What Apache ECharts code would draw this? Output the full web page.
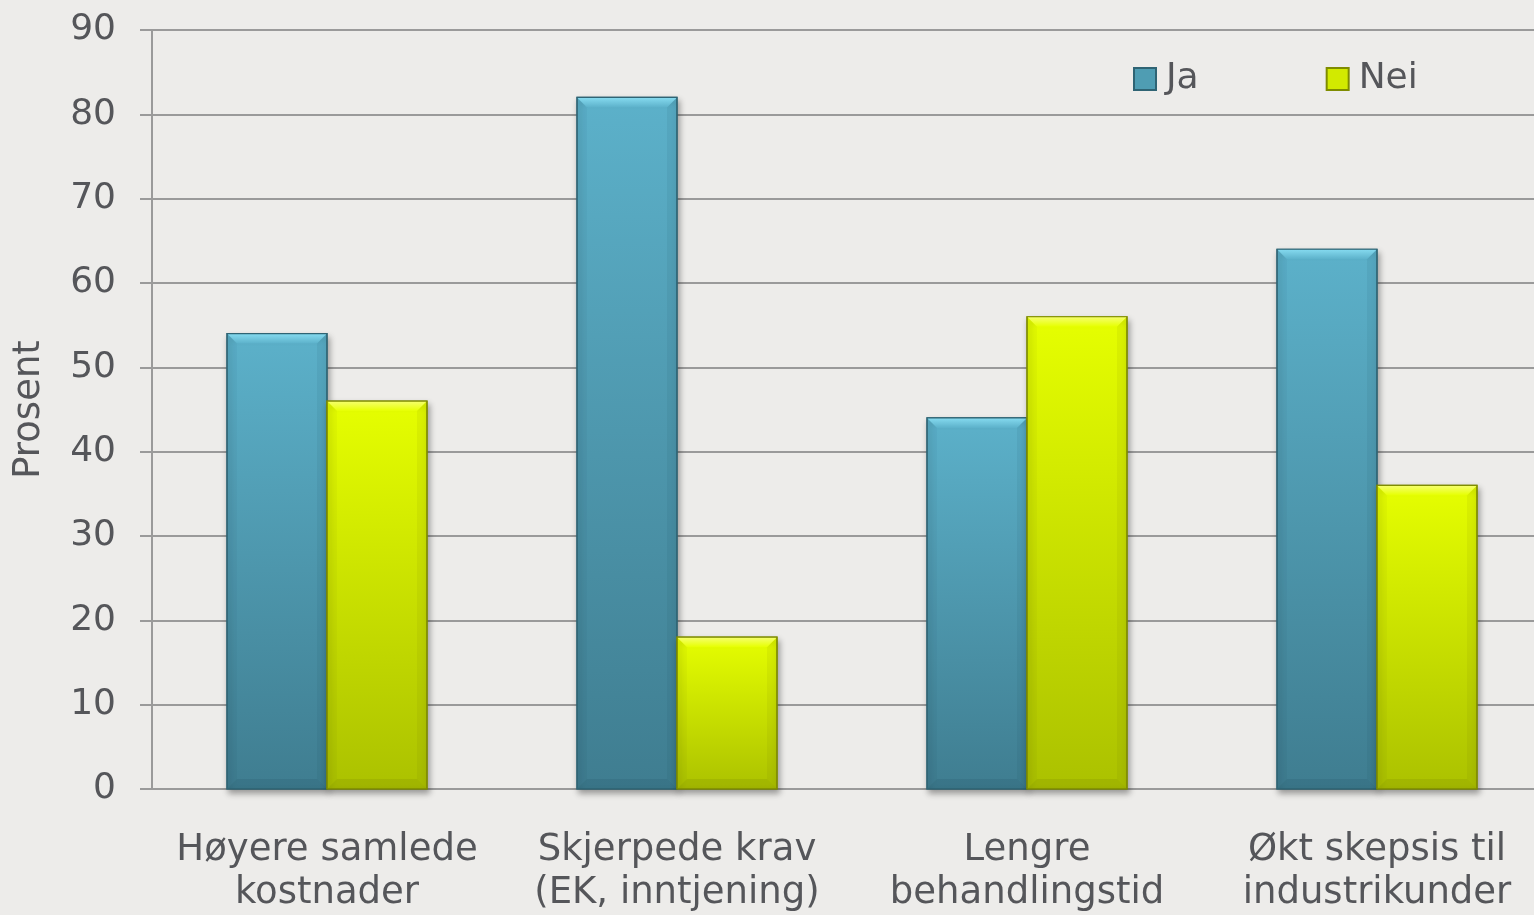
<!DOCTYPE html>
<html><head><meta charset="utf-8">
<script src="https://cdn.jsdelivr.net/npm/echarts@6/dist/echarts.min.js"></script>
<style>html,body{margin:0;padding:0;background:#edecea;overflow:hidden;width:1534px;height:915px;}#c{width:1552px;height:915px;}</style>
</head><body><div id="c"></div>
<script>
const categories = ['Høyere samlede\nkostnader', 'Skjerpede krav\n(EK, inntjening)', 'Lengre\nbehandlingstid', 'Økt skepsis til\nindustrikunder'];
const jaValues = [54, 82, 44, 64];
const neiValues = [46, 18, 56, 36];
const yTicks = {min: 0, max: 90, interval: 10};
const font = 'DejaVu Sans, Verdana, sans-serif';
const txt = '#55565a';
const axisC = '#9a9a9a';
const styles = [
  {top: '#5cb1ca', bottom: '#3f7d90', hi: '#86dbf0', dark: 'rgba(20,60,75,0.35)', border: '#2f6474'},
  {top: '#e6ff00', bottom: '#abc100', hi: '#f6ff70', dark: 'rgba(80,90,0,0.35)', border: '#7f8c00'}
];
function makeRender(s){
  return function(params, api){
    const i = api.value(0), v = api.value(1);
    const band = api.size([1, 0])[0];
    const w = band * 100 / 350;
    const c = api.coord([i, v]);
    const base = api.coord([i, 0]);
    const x0 = s === 0 ? c[0] - w : c[0];
    const x1 = x0 + w;
    const y0 = c[1], y1 = base[1];
    const b = Math.min(10, (y1 - y0) / 2);
    const st = styles[s];
    return {type: 'group', children: [
      {type: 'rect', shape: {x: x0, y: y0, width: w, height: y1 - y0},
       style: {fill: new echarts.graphic.LinearGradient(0,0,0,1,[{offset:0,color:st.top},{offset:1,color:st.bottom}]),
               stroke: st.border, lineWidth: 1.2, shadowColor: 'rgba(0,0,0,0.35)', shadowBlur: 6, shadowOffsetX: 2, shadowOffsetY: 4}},
      {type: 'polygon', shape: {points: [[x0,y0],[x1,y0],[x1-b,y0+b],[x0+b,y0+b]]},
       style: {fill: new echarts.graphic.LinearGradient(0,0,0,1,[{offset:0,color:st.hi},{offset:1,color:st.top}])}},
      {type: 'polygon', shape: {points: [[x0,y1],[x1,y1],[x1-b,y1-b],[x0+b,y1-b]]},
       style: {fill: st.dark, opacity: 0.35}},
      {type: 'polygon', shape: {points: [[x0,y0],[x0+b,y0+b],[x0+b,y1-b],[x0,y1]]},
       style: {fill: st.dark, opacity: 0.1}},
      {type: 'polygon', shape: {points: [[x1,y0],[x1-b,y0+b],[x1-b,y1-b],[x1,y1]]},
       style: {fill: st.dark, opacity: 0.2}},
      {type: 'rect', shape: {x: x0, y: y0, width: w, height: y1 - y0}, style: {fill: 'none', stroke: st.border, lineWidth: 1.2}}
    ]};
  };
}
const chart = echarts.init(document.getElementById('c'));
chart.setOption({
  backgroundColor: '#edecea',
  animation: false,
  grid: {left: 152, right: 0, top: 30, bottom: 126, containLabel: false},
  legend: {
    left: 1128, top: 56, itemWidth: 22, itemHeight: 22, itemGap: 127, icon: 'rect',
    textStyle: {fontFamily: font, fontSize: 36, color: txt, padding: [0,0,0,5]},
    data: ['Ja', 'Nei']
  },
  xAxis: {
    type: 'category', data: categories,
    axisLine: {lineStyle: {color: axisC, width: 2}},
    axisTick: {length: 12, lineStyle: {color: axisC, width: 2}},
    axisLabel: {fontFamily: font, fontSize: 37, color: txt, margin: 40, lineHeight: 43, interval: 0}
  },
  yAxis: {
    type: 'value', min: yTicks.min, max: yTicks.max, interval: yTicks.interval,
    name: 'Prosent', nameLocation: 'middle', nameGap: 104, nameRotate: 90,
    nameTextStyle: {fontFamily: font, fontSize: 37, color: txt},
    axisLine: {show: true, lineStyle: {color: axisC, width: 2}},
    axisTick: {show: true, length: 12, lineStyle: {color: axisC, width: 2}},
    splitLine: {lineStyle: {color: axisC, width: 2}},
    axisLabel: {fontFamily: font, fontSize: 36, color: txt, margin: 36}
  },
  series: [
    {name: 'Ja', type: 'custom', renderItem: makeRender(0), encode: {x: 0, y: 1},
     data: jaValues.map((v, i) => [i, v]), itemStyle: {color: '#4f9db3', borderColor: '#2f6474', borderWidth: 1}},
    {name: 'Nei', type: 'custom', renderItem: makeRender(1), encode: {x: 0, y: 1},
     data: neiValues.map((v, i) => [i, v]), itemStyle: {color: '#d2ea00', borderColor: '#7f8c00', borderWidth: 1}}
  ]
});
</script></body></html>
